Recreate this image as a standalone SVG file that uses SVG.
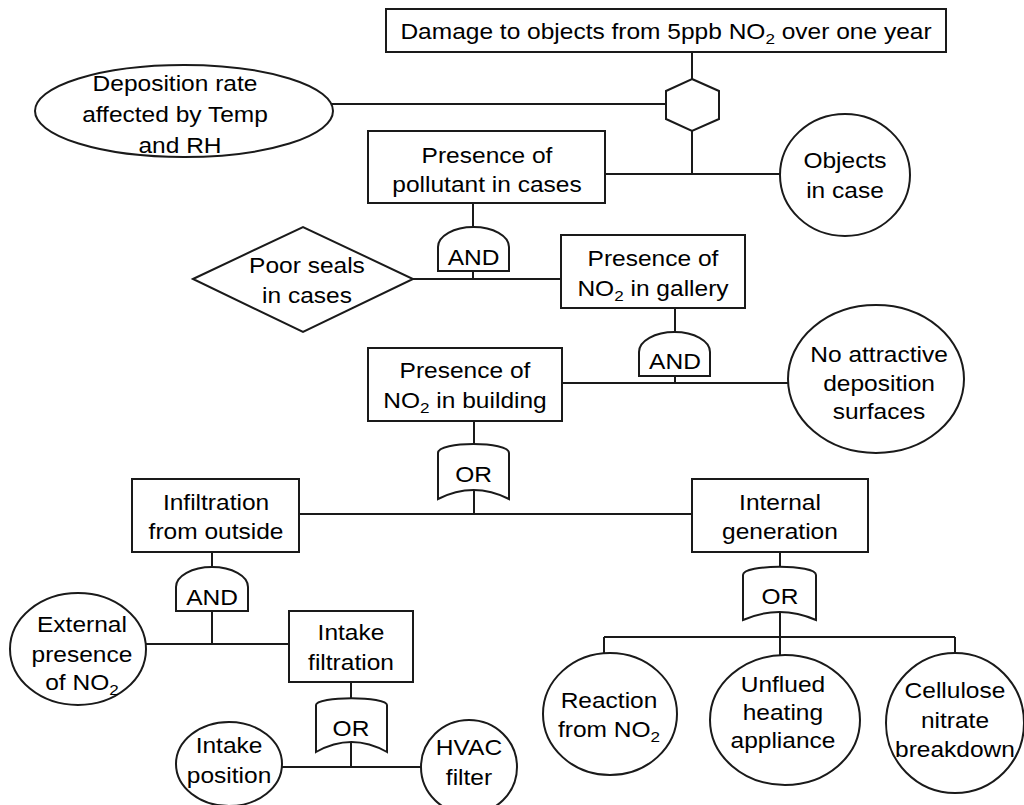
<svg xmlns="http://www.w3.org/2000/svg" width="1024" height="805" viewBox="0 0 1024 805">
<style>
.s{fill:#fff;stroke:#1a1a1a;stroke-width:2}
.c{fill:none;stroke:#1a1a1a;stroke-width:2}
text{font-family:"Liberation Sans",Arial,sans-serif;font-size:21.5px;fill:#000;text-anchor:middle}
.sub{font-size:15px}
</style>
<rect width="1024" height="805" fill="#fff"/>
<g id="connectors" class="c">
<path d="M692,52V79M331,104H666M692,131V174M605,174H780M473,203V227M473,271V279M413,279H561M675,308V332M675,376V383M562,383H788M474,421V444M474,490V514M299,514H692M212,552V567M212,611V644M146,644H289M351,682V698M351,742V767M282,767H422M780,552V567M780,612V637M604,637H955M604,637V653M780,637V655M955,637V653"/>
</g>
<g id="top-event"><rect class="s" x="386" y="9" width="560" height="43"/>
<g transform="scale(1.14,1)"><text x="584.2" y="39">Damage to objects from 5ppb NO<tspan class="sub" dy="5">2</tspan><tspan dy="-5"> over one year</tspan></text></g></g>
<g id="inhibit-gate"><polygon class="s" points="692,79 719,91 719,119 692,131 666,119 666,91"/></g>
<g id="deposition-rate"><ellipse class="s" cx="184" cy="111" rx="149" ry="46"/>
<g transform="scale(1.14,1)"><text x="153.5" y="91">Deposition rate</text><text x="153.5" y="122">affected by Temp</text><text x="157.9" y="153">and RH</text></g></g>
<g id="pollutant-in-cases"><rect class="s" x="368" y="131" width="237" height="72"/>
<g transform="scale(1.14,1)"><text x="427.2" y="163">Presence of</text><text x="427.2" y="192">pollutant in cases</text></g></g>
<g id="objects-in-case"><ellipse class="s" cx="845" cy="175" rx="65" ry="61"/>
<g transform="scale(1.14,1)"><text x="741.2" y="168">Objects</text><text x="741.2" y="198">in case</text></g></g>
<g id="and-gate-1"><path class="s" d="M438,271L438,247A35.5,20 0 0 1 509,247L509,271Z"/>
<g transform="scale(1.14,1)"><text x="415.4" y="265">AND</text></g></g>
<g id="poor-seals"><polygon class="s" points="193,279 303,227 413,279 303,332"/>
<g transform="scale(1.14,1)"><text x="269.3" y="273">Poor seals</text><text x="269.3" y="303">in cases</text></g></g>
<g id="no2-in-gallery"><rect class="s" x="561" y="235" width="184" height="73"/>
<g transform="scale(1.14,1)"><text x="572.8" y="266">Presence of</text><text x="572.8" y="296">NO<tspan class="sub" dy="5">2</tspan><tspan dy="-5"> in gallery</tspan></text></g></g>
<g id="and-gate-2"><path class="s" d="M639,376L639,352A35.5,20 0 0 1 710,352L710,376Z"/>
<g transform="scale(1.14,1)"><text x="592.1" y="369">AND</text></g></g>
<g id="no-deposition-surfaces"><ellipse class="s" cx="876" cy="379" rx="88" ry="74"/>
<g transform="scale(1.14,1)"><text x="771.1" y="362">No attractive</text><text x="771.1" y="391">deposition</text><text x="771.1" y="419">surfaces</text></g></g>
<g id="no2-in-building"><rect class="s" x="368" y="348" width="194" height="73"/>
<g transform="scale(1.14,1)"><text x="407.9" y="378">Presence of</text><text x="407.9" y="408">NO<tspan class="sub" dy="5">2</tspan><tspan dy="-5"> in building</tspan></text></g></g>
<g id="or-gate-1"><path class="s" d="M438,499L438,453C438,441 509,441 509,453L509,499Q473.5,481 438,499Z"/>
<g transform="scale(1.14,1)"><text x="415.4" y="482">OR</text></g></g>
<g id="infiltration"><rect class="s" x="132" y="479" width="167" height="73"/>
<g transform="scale(1.14,1)"><text x="189.5" y="510">Infiltration</text><text x="189.5" y="539">from outside</text></g></g>
<g id="internal-generation"><rect class="s" x="692" y="479" width="176" height="73"/>
<g transform="scale(1.14,1)"><text x="684.2" y="510">Internal</text><text x="684.2" y="539">generation</text></g></g>
<g id="and-gate-3"><path class="s" d="M176,611L176,587A36,20 0 0 1 248,587L248,611Z"/>
<g transform="scale(1.14,1)"><text x="186" y="605">AND</text></g></g>
<g id="external-no2"><ellipse class="s" cx="78" cy="649" rx="68" ry="56"/>
<g transform="scale(1.14,1)"><text x="71.9" y="632">External</text><text x="71.9" y="662">presence</text><text x="71.9" y="690">of NO<tspan class="sub" dy="5">2</tspan></text></g></g>
<g id="intake-filtration"><rect class="s" x="289" y="611" width="124" height="71"/>
<g transform="scale(1.14,1)"><text x="307.9" y="640">Intake</text><text x="307.9" y="670">filtration</text></g></g>
<g id="or-gate-2"><path class="s" d="M316,752L316,705C316,696 387,696 387,705L387,752Q351.5,732 316,752Z"/>
<g transform="scale(1.14,1)"><text x="307.9" y="736">OR</text></g></g>
<g id="intake-position"><ellipse class="s" cx="229" cy="764" rx="53" ry="42"/>
<g transform="scale(1.14,1)"><text x="200.9" y="753">Intake</text><text x="200.9" y="783">position</text></g></g>
<g id="hvac-filter"><ellipse class="s" cx="469" cy="767" rx="48" ry="47"/>
<g transform="scale(1.14,1)"><text x="411.4" y="755">HVAC</text><text x="411.4" y="785">filter</text></g></g>
<g id="or-gate-3"><path class="s" d="M743,620L743,575C743,564 816,564 816,575L816,620Q779.5,604 743,620Z"/>
<g transform="scale(1.14,1)"><text x="684.2" y="604">OR</text></g></g>
<g id="reaction-no2"><ellipse class="s" cx="610" cy="714" rx="67" ry="61"/>
<g transform="scale(1.14,1)"><text x="534.2" y="708">Reaction</text><text x="534.2" y="737">from NO<tspan class="sub" dy="5">2</tspan></text></g></g>
<g id="unflued-heating"><ellipse class="s" cx="785" cy="720" rx="75" ry="65"/>
<g transform="scale(1.14,1)"><text x="686.8" y="692">Unflued</text><text x="686.8" y="720">heating</text><text x="686.8" y="748">appliance</text></g></g>
<g id="cellulose-nitrate"><ellipse class="s" cx="955" cy="723" rx="69" ry="70"/>
<g transform="scale(1.14,1)"><text x="837.7" y="698">Cellulose</text><text x="837.7" y="728">nitrate</text><text x="837.7" y="757">breakdown</text></g></g>
</svg>
